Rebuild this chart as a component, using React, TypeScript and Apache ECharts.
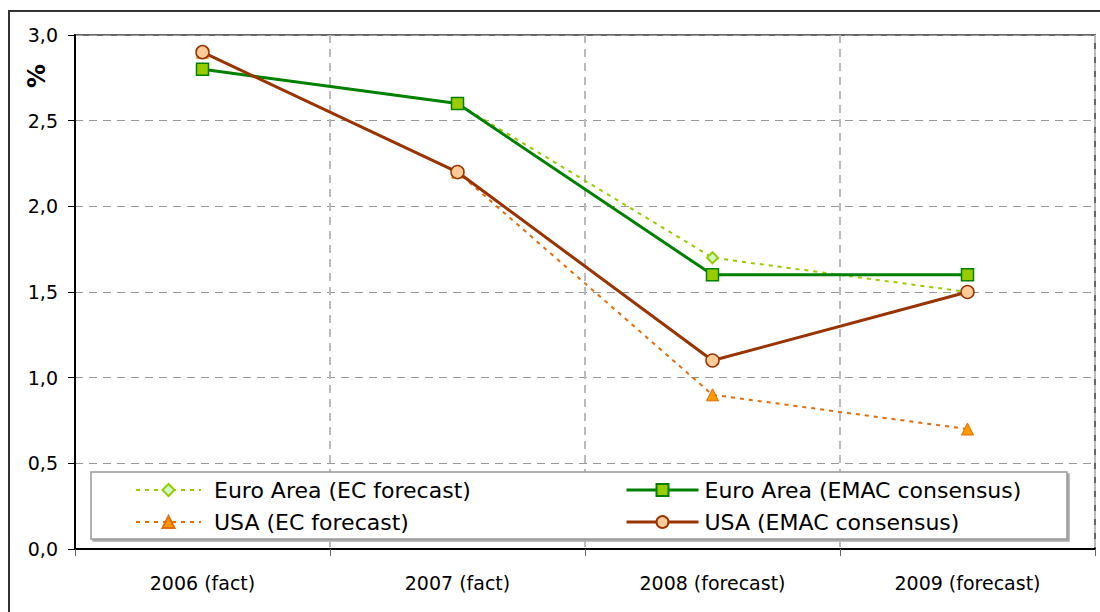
import React, { useEffect, useRef } from "react";
import * as echarts from "echarts";

const categories = ["2006 (fact)", "2007 (fact)", "2008 (forecast)", "2009 (forecast)"];
const euroEC = [2.8, 2.6, 1.7, 1.5];
const usaEC = [2.9, 2.2, 0.9, 0.7];
const euroEMAC = [2.8, 2.6, 1.6, 1.6];
const usaEMAC = [2.9, 2.2, 1.1, 1.5];
const seriesNames = [
  "Euro Area (EC forecast)",
  "USA (EC forecast)",
  "Euro Area (EMAC consensus)",
  "USA (EMAC consensus)",
];
const yMin = 0;
const yMax = 3;
const yStep = 0.5;
const yUnit = "%";

const FONT = "DejaVu Sans";

export default function App() {
  const ref = useRef<HTMLDivElement>(null);
  useEffect(() => {
    if (!ref.current) return;
    const chart = echarts.init(ref.current, null, { renderer: "svg" });
    const dotted = [4, 5];
    chart.setOption({
      animation: false,
      backgroundColor: "#fff",
      grid: {
        left: 75,
        top: 35,
        right: 5,
        bottom: 63,
        show: true,
        borderColor: "#666",
        borderWidth: 2,
        backgroundColor: "transparent",
      },
      xAxis: {
        type: "category",
        data: categories,
        boundaryGap: true,
        axisLine: { lineStyle: { color: "#000", width: 2 } },
        axisTick: { show: true, length: 7, lineStyle: { color: "#666", width: 1 } },
        axisLabel: { fontFamily: FONT, fontSize: 19, color: "#000", margin: 24 },
        splitLine: { show: true, lineStyle: { color: "#bbb", width: 2, type: [8, 6] } },
      },
      yAxis: {
        type: "value",
        min: yMin,
        max: yMax,
        interval: yStep,
        axisLine: { show: true, lineStyle: { color: "#000", width: 2 } },
        axisTick: { show: true, length: 7, lineStyle: { color: "#000", width: 1 } },
        axisLabel: {
          fontFamily: FONT,
          fontSize: 19,
          color: "#000",
          margin: 17,
          formatter: (v: number) => v.toFixed(1).replace(".", ","),
        },
        splitLine: { show: true, lineStyle: { color: "#999", width: 1, type: [8, 6] } },
      },
      legend: [
        {
          left: 135,
          top: 479,
          orient: "vertical",
          itemWidth: 65,
          itemHeight: 15,
          itemGap: 10,
          padding: 0,
          z: 10,
          lineStyle: { width: 2 },
          textStyle: {
            fontFamily: FONT,
            fontSize: 22,
            color: "#000",
            lineHeight: 22,
            padding: [0, 0, 0, 8],
          },
          data: [seriesNames[0], seriesNames[1]],
        },
        {
          left: 625,
          top: 479,
          orient: "vertical",
          itemWidth: 72,
          itemHeight: 15,
          itemGap: 10,
          padding: 0,
          z: 10,
          lineStyle: { width: 3 },
          textStyle: {
            fontFamily: FONT,
            fontSize: 22,
            color: "#000",
            lineHeight: 22,
            padding: [0, 0, 0, 1],
          },
          data: [seriesNames[2], seriesNames[3]],
        },
      ],
      graphic: [
        {
          type: "rect",
          z: 3,
          shape: { x: 91, y: 472, width: 976, height: 67 },
          style: {
            fill: "#fff",
            stroke: "#999",
            lineWidth: 1.5,
            shadowColor: "#aaa",
            shadowOffsetX: 2,
            shadowOffsetY: 2,
            shadowBlur: 0,
          },
        },
        {
          type: "rect",
          z: 20,
          silent: true,
          shape: { x: 9, y: 11, width: 1200, height: 800 },
          style: { fill: "none", stroke: "#333", lineWidth: 2 },
        },
        {
          type: "text",
          z: 20,
          x: 37,
          y: 76,
          rotation: Math.PI / 2,
          style: {
            text: yUnit,
            fontFamily: FONT,
            fontSize: 24,
            fontWeight: "bold",
            fill: "#000",
            align: "center",
            verticalAlign: "middle",
            textAlign: "center",
            textVerticalAlign: "middle",
          },
        },
      ],
      series: [
        {
          name: seriesNames[0],
          type: "line",
          data: euroEC,
          symbol: "diamond",
          symbolSize: 11,
          z: 2,
          lineStyle: { color: "#99CC00", width: 2, type: dotted },
          itemStyle: { color: "#CCFFCC", borderColor: "#99CC00", borderWidth: 2 },
        },
        {
          name: seriesNames[1],
          type: "line",
          data: usaEC,
          symbol: "triangle",
          symbolSize: 12,
          z: 2,
          lineStyle: { color: "#E46C0A", width: 2, type: dotted },
          itemStyle: { color: "#FF9900", borderColor: "#E46C0A", borderWidth: 1 },
        },
        {
          name: seriesNames[2],
          type: "line",
          data: euroEMAC,
          symbol: "rect",
          symbolSize: 12,
          z: 3,
          lineStyle: { color: "#008000", width: 3 },
          itemStyle: { color: "#99CC00", borderColor: "#008000", borderWidth: 1.5 },
        },
        {
          name: seriesNames[3],
          type: "line",
          data: usaEMAC,
          symbol: "circle",
          symbolSize: 13,
          z: 3,
          lineStyle: { color: "#993300", width: 3 },
          itemStyle: { color: "#FFCC99", borderColor: "#993300", borderWidth: 1.5 },
        },
      ],
    });
    return () => chart.dispose();
  }, []);
  return (
    <div
      ref={ref}
      style={{ position: "absolute", left: 0, top: 0, width: 1100, height: 612 }}
    />
  );
}
